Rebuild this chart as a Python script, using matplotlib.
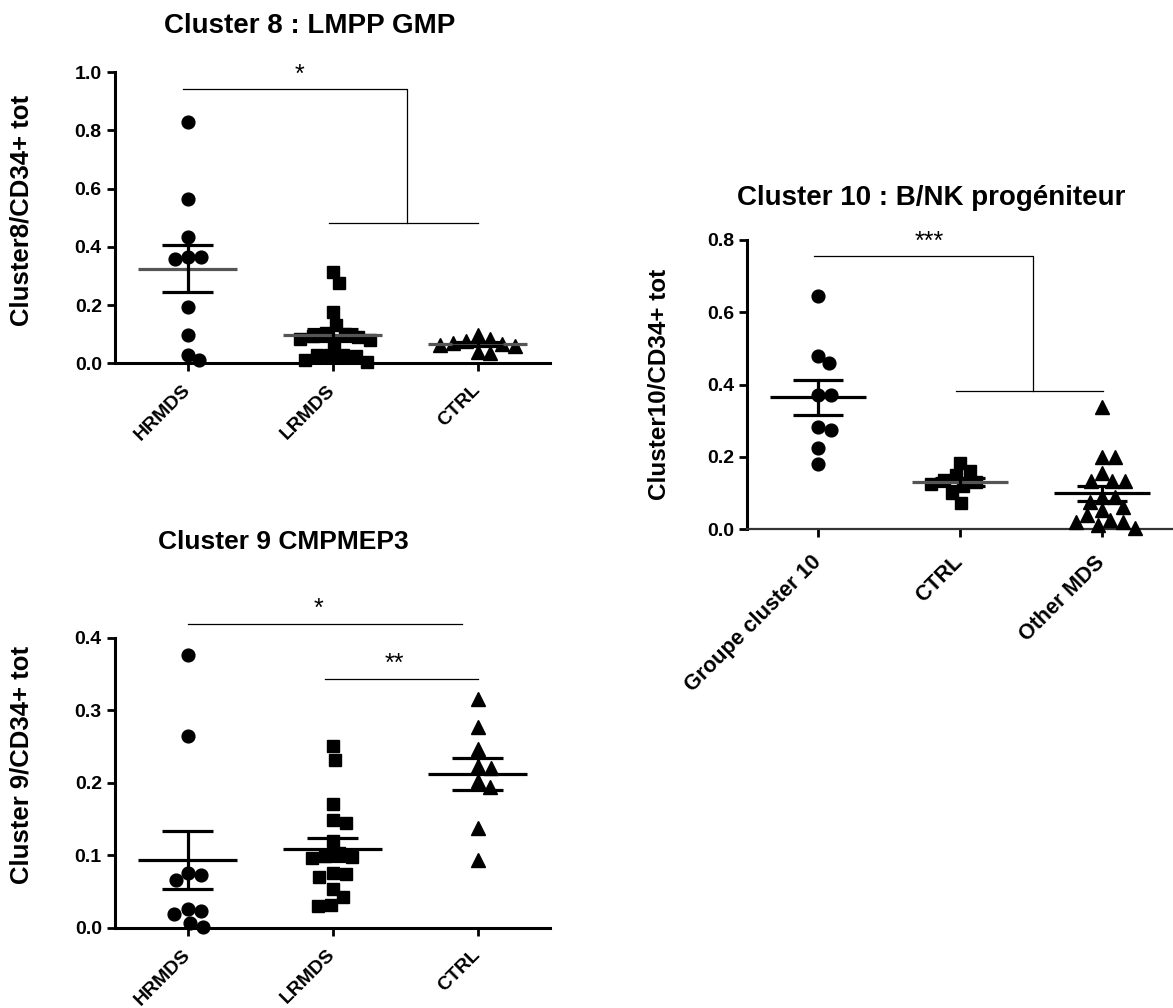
import numpy as np
import matplotlib
matplotlib.use('Agg')
import matplotlib.pyplot as plt

plt.rcParams['font.family'] = ['Liberation Sans', 'DejaVu Sans']
plt.rcParams['font.weight'] = 'bold'

# Cluster 8 : LMPP GMP
c8_groups = ['HRMDS', 'LRMDS', 'CTRL']
c8_hrmds = [0.830, 0.564, 0.433, 0.367, 0.367, 0.357, 0.195, 0.097, 0.029, 0.011]
c8_lrmds = [0.315, 0.277, 0.175, 0.132, 0.105, 0.100, 0.095, 0.090, 0.085, 0.080,
            0.072, 0.030, 0.028, 0.027, 0.025, 0.012, 0.003]
c8_ctrl = [0.097, 0.082, 0.075, 0.070, 0.066, 0.063, 0.058, 0.038, 0.036]

# Cluster 9 CMPMEP3
c9_groups = ['HRMDS', 'LRMDS', 'CTRL']
c9_hrmds = [0.376, 0.264, 0.076, 0.073, 0.066, 0.026, 0.023, 0.019, 0.007, 0.001]
c9_lrmds = [0.250, 0.231, 0.171, 0.149, 0.144, 0.120, 0.103, 0.099, 0.097, 0.096,
            0.075, 0.074, 0.070, 0.054, 0.042, 0.032, 0.030]
c9_ctrl = [0.316, 0.277, 0.246, 0.223, 0.220, 0.203, 0.194, 0.137, 0.093]

# Cluster 10 : B/NK progeniteur
c10_groups = ['Groupe cluster 10', 'CTRL', 'Other MDS']
c10_grp = [0.645, 0.479, 0.461, 0.371, 0.371, 0.284, 0.275, 0.226, 0.180]
c10_ctrl = [0.184, 0.162, 0.150, 0.135, 0.130, 0.125, 0.120, 0.100, 0.074]
c10_other = [0.339, 0.201, 0.201, 0.155, 0.134, 0.134, 0.134, 0.090, 0.090,
             0.075, 0.063, 0.053, 0.040, 0.026, 0.021, 0.021, 0.012, 0.003]

W, H = 1173, 1008
fig = plt.figure(figsize=(W / 100, H / 100), dpi=100)


def px_axes(left, top, right, bottom):
    return fig.add_axes([left / W, 1 - bottom / H, (right - left) / W, (bottom - top) / H])


def swarm(ax, vals, xc, dist):
    # greedy beeswarm in pixel space (kind of like prism's scatter layout)
    vals = np.asarray(vals, float)
    pts = ax.transData.transform(np.column_stack([np.full(len(vals), xc), vals]))
    offs = np.zeros(len(vals))
    placed = []
    for i in np.argsort(-vals, kind='stable'):
        y0 = pts[i, 1]
        cands = [0.0]
        for o, py in placed:
            dy = y0 - py
            if abs(dy) < dist:
                dx = np.sqrt(dist ** 2 - dy ** 2)
                cands += [o + dx, o - dx]
        cands.sort(key=abs)
        for c in cands:
            if all((c - o) ** 2 + (y0 - py) ** 2 >= dist ** 2 - 1e-6 for o, py in placed):
                offs[i] = c
                break
        placed.append((offs[i], y0))
    back = ax.transData.inverted().transform(np.column_stack([pts[:, 0] + offs, pts[:, 1]]))
    return back[:, 0]


def mean_sem(ax, vals, xc, color='black'):
    m = np.mean(vals)
    s = np.std(vals, ddof=1) / np.sqrt(len(vals))
    ax.hlines(m, xc - 0.34, xc + 0.34, color=color, lw=2.3, zorder=5)
    ax.vlines(xc, m - s, m + s, color='black', lw=2.3, zorder=5)
    ax.hlines([m - s, m + s], xc - 0.175, xc + 0.175, color='black', lw=2.3, zorder=5)


def style(ax, ymax, ystep, labels, xsize=14, xpad=12):
    ax.set_xlim(-0.5, 2.5)
    ax.set_ylim(0, ymax)
    for sp in ['top', 'right']:
        ax.spines[sp].set_visible(False)
    for sp in ['left', 'bottom']:
        ax.spines[sp].set_linewidth(2.2)
    ax.set_yticks(np.arange(0, ymax + 1e-9, ystep))
    ax.yaxis.set_major_formatter(matplotlib.ticker.FormatStrFormatter('%.1f'))
    ax.set_xticks(range(len(labels)))
    ax.set_xticklabels(labels, rotation=45, ha='right', va='center', rotation_mode='anchor')
    ax.tick_params(direction='out', length=5.5, width=2, labelsize=14, pad=4)
    ax.tick_params(axis='x', pad=xpad, labelsize=xsize)
    for t in ax.get_xticklabels() + ax.get_yticklabels():
        t.set_fontweight('bold')


markers = ['o', 's', '^']
msizes = [9.2, 8.6, 9.5]


def draw_panel(ax, groups, dist, mean_colors):
    for k, vals in enumerate(groups):
        xs = swarm(ax, vals, k, dist)
        ax.plot(xs, vals, linestyle='none', marker=markers[k], ms=msizes[k],
                color='black', clip_on=False, zorder=3)
        mean_sem(ax, vals, k, mean_colors[k])


def line(ax, xs, ys):
    ax.plot(xs, ys, color='black', lw=0.9, clip_on=False, zorder=2)


# ---- Cluster 8 ----
ax1 = px_axes(115, 72.3, 550, 363.3)
style(ax1, 1.0, 0.2, c8_groups)
draw_panel(ax1, [c8_hrmds, c8_lrmds, c8_ctrl], 13, ['#555555'] * 3)
line(ax1, [-0.03, 1.517, 1.517], [0.943, 0.943, 0.481])
line(ax1, [0.974, 2.0], [0.481, 0.481])
ax1.text(0.77, 0.95, '*', ha='center', va='bottom', fontsize=18, fontweight='normal')

# ---- Cluster 9 ----
ax3 = px_axes(115, 637.7, 550, 927.7)
style(ax3, 0.4, 0.1, c9_groups)
draw_panel(ax3, [c9_hrmds, c9_lrmds, c9_ctrl], 14, ['black'] * 3)
line(ax3, [0.0, 1.89], [0.419, 0.419])
line(ax3, [0.95, 2.0], [0.343, 0.343])
ax3.text(0.90, 0.423, '*', ha='center', va='bottom', fontsize=18, fontweight='normal')
ax3.text(1.43, 0.347, '**', ha='center', va='bottom', fontsize=18, fontweight='normal')

# ---- Cluster 10 ----
ax2 = px_axes(747.3, 240, 1172.7, 529.3)
style(ax2, 0.8, 0.2, c10_groups, xsize=15.5, xpad=16)
ax2.spines['bottom'].set_linewidth(1.6)
ax2.spines['bottom'].set_color('#333333')
draw_panel(ax2, [c10_grp, c10_ctrl, c10_other], 13, ['black', '#555555', 'black'])
line(ax2, [-0.03, 1.518, 1.518], [0.757, 0.757, 0.383])
line(ax2, [0.975, 2.005], [0.383, 0.383])
ax2.text(0.78, 0.762, '***', ha='center', va='bottom', fontsize=18, fontweight='normal')

# titles and y labels
fig.text(310 / W, 1 - 33 / H, 'Cluster 8 : LMPP GMP', ha='center', va='baseline',
         fontsize=20, fontweight='bold')
fig.text(283 / W, 1 - 549 / H, 'Cluster 9 CMPMEP3', ha='center', va='baseline',
         fontsize=19, fontweight='bold')
fig.text(931 / W, 1 - 205 / H, 'Cluster 10 : B/NK progéniteur', ha='center', va='baseline',
         fontsize=20, fontweight='bold')
fig.text(22 / W, 1 - 210 / H, 'Cluster8/CD34+ tot', rotation=90, ha='center', va='center',
         fontsize=18.5, fontweight='bold')
fig.text(22 / W, 1 - 765 / H, 'Cluster 9/CD34+ tot', rotation=90, ha='center', va='center',
         fontsize=18.5, fontweight='bold')
fig.text(660 / W, 1 - 384 / H, 'Cluster10/CD34+ tot', rotation=90, ha='center', va='center',
         fontsize=17.5, fontweight='bold')

plt.savefig('out.png', dpi=100)
